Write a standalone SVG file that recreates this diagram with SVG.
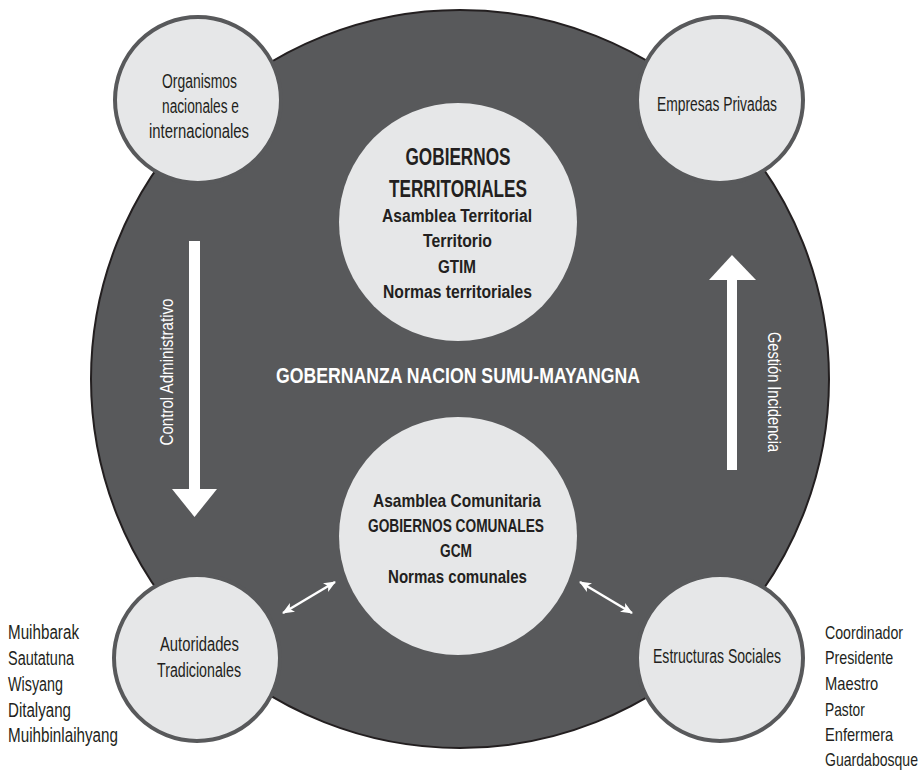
<svg xmlns="http://www.w3.org/2000/svg" width="922" height="770" viewBox="0 0 922 770">
<defs>
<style>
text{font-family:"Liberation Sans",Arial,sans-serif;fill:#231f20}
.r{font-size:20px}
.rs{font-size:19px}
.rot{font-size:17.5px;fill:#ffffff}
.b{font-weight:bold}
.c{text-anchor:middle}
.node{fill:#e6e7e8;stroke:#58595b;stroke-width:4}
.inner{fill:#e6e7e8}
.wline{stroke:#ffffff;stroke-width:2.5;fill:none}
</style>
<marker id="ah" viewBox="0 0 12 10" refX="11" refY="5" markerWidth="12" markerHeight="10" markerUnits="userSpaceOnUse" orient="auto-start-reverse">
<path d="M0,0 L12,5 L0,10 L3,5 Z" fill="#ffffff"/>
</marker>
</defs>
<rect width="922" height="770" fill="#ffffff"/>
<g id="gobernanza">
<circle cx="460" cy="379" r="369" fill="#58595b" stroke="#231f20" stroke-width="2"/>
<text class="b c" x="458" y="383" font-size="21.5" textLength="364" lengthAdjust="spacingAndGlyphs" style="fill:#ffffff">GOBERNANZA NACION SUMU-MAYANGNA</text>
</g>
<g id="connectors">
<rect x="189" y="241" width="11" height="249" fill="#ffffff"/>
<polygon points="172,489 217,489 194.5,517" fill="#ffffff"/>
<text class="rot c" transform="translate(173,372) rotate(-90)" x="0" y="0" textLength="147" lengthAdjust="spacingAndGlyphs">Control Administrativo</text>
<rect x="727" y="279" width="10" height="191" fill="#ffffff"/>
<polygon points="709,280 756,280 732,255" fill="#ffffff"/>
<text class="rot c" transform="translate(768,392) rotate(90)" x="0" y="0" textLength="120" lengthAdjust="spacingAndGlyphs">Gestión Incidencia</text>
<line class="wline" x1="283" y1="613" x2="335" y2="582" marker-start="url(#ah)" marker-end="url(#ah)"/>
<line class="wline" x1="580" y1="582" x2="632" y2="613" marker-start="url(#ah)" marker-end="url(#ah)"/>
</g>
<g id="gobiernos-territoriales">
<circle class="inner" cx="458" cy="222" r="119"/>
<text class="b c" x="458" y="165" font-size="24" textLength="105" lengthAdjust="spacingAndGlyphs">GOBIERNOS</text>
<text class="b c" x="458" y="197" font-size="24" textLength="138" lengthAdjust="spacingAndGlyphs">TERRITORIALES</text>
<text class="b c" x="457" y="222" font-size="18" textLength="150" lengthAdjust="spacingAndGlyphs">Asamblea Territorial</text>
<text class="b c" x="457.5" y="247" font-size="18" textLength="69" lengthAdjust="spacingAndGlyphs">Territorio</text>
<text class="b c" x="457" y="273" font-size="18" textLength="38" lengthAdjust="spacingAndGlyphs">GTIM</text>
<text class="b c" x="457.5" y="298" font-size="18" textLength="149" lengthAdjust="spacingAndGlyphs">Normas territoriales</text>
</g>
<g id="gobiernos-comunales">
<circle class="inner" cx="458" cy="536" r="119"/>
<text class="b c" x="457" y="507" font-size="19" textLength="168" lengthAdjust="spacingAndGlyphs">Asamblea Comunitaria</text>
<text class="b c" x="456" y="532" font-size="19" textLength="176" lengthAdjust="spacingAndGlyphs">GOBIERNOS COMUNALES</text>
<text class="b c" x="456" y="557" font-size="19" textLength="32" lengthAdjust="spacingAndGlyphs">GCM</text>
<text class="b c" x="457.5" y="583" font-size="19" textLength="139" lengthAdjust="spacingAndGlyphs">Normas comunales</text>
</g>
<g id="organismos">
<circle class="node" cx="198" cy="100" r="83"/>
<text class="r c" x="199.5" y="88" textLength="75" lengthAdjust="spacingAndGlyphs">Organismos</text>
<text class="r c" x="200.5" y="113" textLength="77" lengthAdjust="spacingAndGlyphs">nacionales e</text>
<text class="r c" x="199" y="138" textLength="100" lengthAdjust="spacingAndGlyphs">internacionales</text>
</g>
<g id="empresas">
<circle class="node" cx="720" cy="100" r="83"/>
<text class="r c" x="717" y="111" textLength="120" lengthAdjust="spacingAndGlyphs">Empresas Privadas</text>
</g>
<g id="autoridades">
<circle class="node" cx="197" cy="658" r="83"/>
<text class="r c" x="199.5" y="651" textLength="79" lengthAdjust="spacingAndGlyphs">Autoridades</text>
<text class="r c" x="199" y="677" textLength="84" lengthAdjust="spacingAndGlyphs">Tradicionales</text>
</g>
<g id="estructuras">
<circle class="node" cx="720" cy="658" r="83"/>
<text class="r c" x="717" y="663" textLength="128" lengthAdjust="spacingAndGlyphs">Estructuras Sociales</text>
</g>
<g id="lista-autoridades">
<text class="r" x="8" y="639" textLength="71" lengthAdjust="spacingAndGlyphs">Muihbarak</text>
<text class="r" x="8" y="665" textLength="66" lengthAdjust="spacingAndGlyphs">Sautatuna</text>
<text class="r" x="8" y="690.5" textLength="55" lengthAdjust="spacingAndGlyphs">Wisyang</text>
<text class="r" x="8" y="716.5" textLength="63" lengthAdjust="spacingAndGlyphs">Ditalyang</text>
<text class="r" x="8" y="742" textLength="110" lengthAdjust="spacingAndGlyphs">Muihbinlaihyang</text>
</g>
<g id="lista-estructuras" transform="translate(825,0) scale(0.75,1)">
<text class="rs" x="0" y="639" textLength="104" lengthAdjust="spacingAndGlyphs">Coordinador</text>
<text class="rs" x="0" y="664.5" textLength="91" lengthAdjust="spacingAndGlyphs">Presidente</text>
<text class="rs" x="0" y="690" textLength="71" lengthAdjust="spacingAndGlyphs">Maestro</text>
<text class="rs" x="0" y="716" textLength="53" lengthAdjust="spacingAndGlyphs">Pastor</text>
<text class="rs" x="0" y="741.5" textLength="91" lengthAdjust="spacingAndGlyphs">Enfermera</text>
<text class="rs" x="0" y="766" textLength="124" lengthAdjust="spacingAndGlyphs">Guardabosque</text>
</g>
</svg>
